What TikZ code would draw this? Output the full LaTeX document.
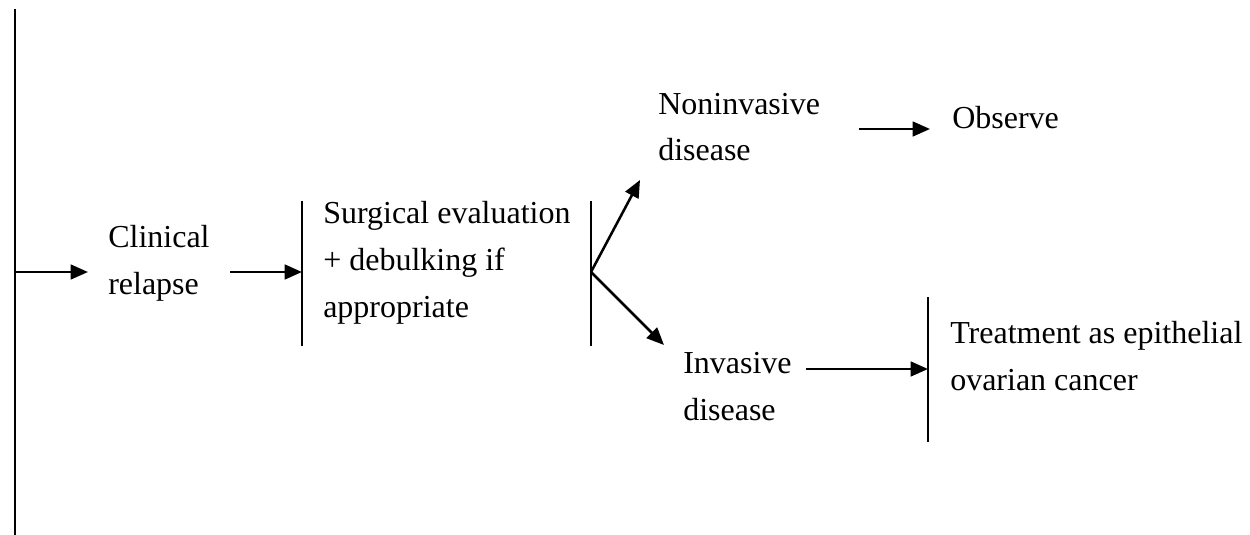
\documentclass[tikz,border=0pt]{standalone}
\usepackage{fontspec}
\setmainfont{Liberation Serif}
\usetikzlibrary{arrows.meta}
\begin{document}
\begin{tikzpicture}[x=0.75pt,y=-0.75pt,
  lbl/.style={anchor=base west,inner sep=0pt,align=left,font=\fontsize{24pt}{35pt}\selectfont},
  bar/.style={line width=1.4pt},
  arr/.style={line width=1.9pt,-{Triangle[length=13pt,width=11pt]}}]
\useasboundingbox (0,0) rectangle (1250,535);
% bars
\coordinate (L0t) at (15,9); \coordinate (L0b) at (15,535);
\coordinate (L0m) at (15,272);
\coordinate (B1t) at (302,201); \coordinate (B1b) at (302,346); \coordinate (B1m) at (302,272);
\coordinate (B2t) at (591,201); \coordinate (B2b) at (591,346); \coordinate (B2m) at (591,272);
\coordinate (B3t) at (928,297); \coordinate (B3b) at (928,442); \coordinate (B3m) at (928,369);
\draw[bar] (L0t) -- (L0b);
\draw[bar] (B1t) -- (B1b);
\draw[bar] (B2t) -- (B2b);
\draw[bar] (B3t) -- (B3b);
% texts (anchor = baseline of the last line)
\node[lbl] (clin) at (108,294) {Clinical\\relapse};
\node[lbl] (surg) at (323,317) {Surgical evaluation\\+ debulking if\\appropriate};
\node[lbl] (noninv) at (658,161) {Noninvasive\\disease};
\node[lbl] (obs) at (952,128) {Observe};
\node[lbl] (inv) at (683,420) {Invasive\\disease};
\node[lbl] (treat) at (950,390) {Treatment as epithelial\\ovarian cancer};
% arrow endpoints
\coordinate (a1e) at (88,272);
\coordinate (a2s) at (230,272);
\coordinate (a3e) at (640,180);
\coordinate (a4e) at (664,345);
\coordinate (a5s) at (859,129); \coordinate (a5e) at (930,129);
\coordinate (a6s) at (806,369);
\draw[arr] (L0m) -- (a1e);
\draw[arr] (a2s) -- (B1m);
\draw[arr] (B2m) -- (a3e);
\draw[arr] (B2m) -- (a4e);
\draw[arr] (a5s) -- (a5e);
\draw[arr] (a6s) -- (B3m);
\end{tikzpicture}
\end{document}
